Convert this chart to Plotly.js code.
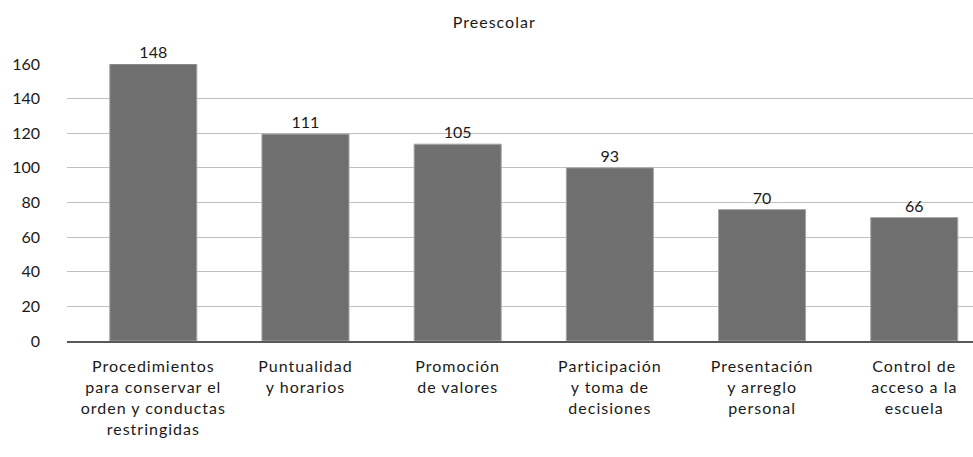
<!DOCTYPE html>
<html>
<head>
<meta charset="utf-8">
<script src="https://cdn.plot.ly/plotly-3.0.1.min.js"></script>
<style>
html,body{margin:0;padding:0;background:#fff;}
#chart{width:973px;height:457px;}
.xtick text, .gtitle {letter-spacing: 1px;}
</style>
</head>
<body>
<div id="chart"></div>
<script>
const categories = [
  "Procedimientos<br>para conservar el<br>orden y conductas<br>restringidas",
  "Puntualidad<br>y horarios",
  "Promoción<br>de valores",
  "Participación<br>y toma de<br>decisiones",
  "Presentación<br>y arreglo<br>personal",
  "Control de<br>acceso a la<br>escuela"
];
// bar heights as read against the drawn axis
const barHeights = [160, 119.5, 113.7, 100, 75.9, 71.3];
// value labels printed above the bars
const valueLabels = ["148", "111", "105", "93", "70", "66"];
const yTicks = [0, 20, 40, 60, 80, 100, 120, 140, 160];

const FONT = "Lato, 'Noto Sans', sans-serif";

const trace = {
  type: "bar",
  x: categories.map((c, i) => i),
  y: barHeights,
  text: valueLabels,
  textposition: "outside",
  cliponaxis: false,
  textfont: {family: FONT, size: 16, color: "#1a1a1a"},
  marker: {color: "#6f6f6f", line: {color: "#a6a6a6", width: 1}},
  width: 0.572,
  hoverinfo: "none"
};

const layout = {
  width: 973, height: 457,
  margin: {l: 67, r: 0, t: 64, b: 116},
  paper_bgcolor: "#fff", plot_bgcolor: "#fff",
  showlegend: false,
  title: {text: "Preescolar", x: 0.508, xref: "container", y: 0.95, yanchor: "middle",
          font: {family: FONT, size: 16, color: "#1a1a1a"}},
  xaxis: {
    range: [-0.567, 5.386],
    tickvals: categories.map((c, i) => i),
    ticktext: categories,
    tickfont: {family: FONT, size: 16, color: "#1a1a1a"},
    showgrid: false, zeroline: false,
    showline: true, linecolor: "#595959", linewidth: 2,
    ticks: "", ticklabelstandoff: 10
  },
  yaxis: {
    range: [0, 160],
    tickvals: yTicks,
    ticktext: yTicks.map(String),
    tickfont: {family: FONT, size: 16, color: "#1a1a1a"},
    showgrid: true, gridcolor: "#c0c0c0", gridwidth: 1,
    zeroline: false, showline: false,
    ticks: "", ticklabelstandoff: 26
  }
};

Plotly.newPlot("chart", [trace], layout, {displayModeBar: false, staticPlot: true});
</script>
</body>
</html>
